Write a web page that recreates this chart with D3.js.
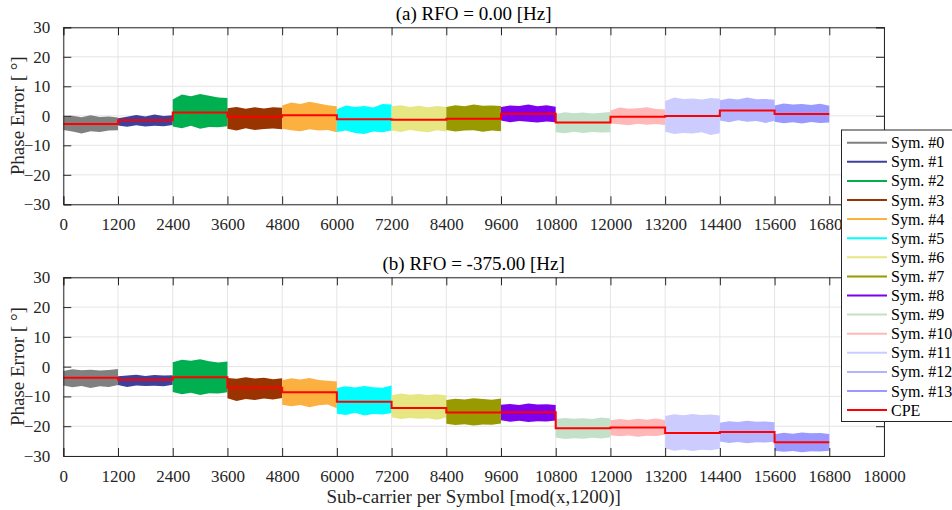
<!DOCTYPE html>
<html>
<head>
<meta charset="utf-8">
<script src="https://cdn.jsdelivr.net/npm/d3@7"></script>
<style>
  body { margin: 0; background: #fff; }
  svg { font-family: "Liberation Serif", "Times New Roman", serif; }
</style>
</head>
<body>
<svg id="chart" width="952" height="510"></svg>
<script>
// per-symbol phase error: CPE step + upper/lower envelope of the noise band
var symNames = ["Sym. #0", "Sym. #1", "Sym. #2", "Sym. #3", "Sym. #4", "Sym. #5", "Sym. #6",
                "Sym. #7", "Sym. #8", "Sym. #9", "Sym. #10", "Sym. #11", "Sym. #12", "Sym. #13"]
var symColors = ["#808080", "#3f3f9c", "#00b050", "#993300", "#fbb040", "#00ffff", "#e6e682",
                 "#999900", "#7f00ee", "#c3e0c8", "#ffb8b8", "#ccccff", "#b3b3ff", "#9999ff"]
var xTicks = [0, 1200, 2400, 3600, 4800, 6000, 7200, 8400, 9600, 10800, 12000, 13200, 14400, 15600, 16800, 18000]
var yTicks = [-30, -20, -10, 0, 10, 20, 30]
var sampleOffsets = [0, 200, 400, 600, 800, 1000, 1200]

// (a) RFO = 0.00 Hz
var cpeA = [-2.8, -1.5, 1.1, -0.3, 0.2, -1.2, -1.3, -1.0, 0.7, -2.3, -0.3, -0.1, 1.8, 0.6]
var hiA = [
  [-0.3, 0.0, -0.5, 0.2, -0.4, -0.2, -0.6],
  [-0.8, -0.3, 0.3, -0.2, 0.4, -0.1, 0.2],
  [5.5, 7.2, 6.6, 7.4, 6.8, 6.2, 6.0],
  [2.6, 3.0, 2.4, 2.9, 2.5, 2.9, 2.7],
  [3.5, 4.5, 4.0, 4.8, 4.2, 3.6, 3.2],
  [2.2, 3.5, 3.0, 3.3, 2.8, 4.0, 3.8],
  [3.2, 3.6, 3.0, 3.4, 2.9, 3.3, 3.0],
  [3.0, 3.6, 3.2, 3.8, 3.4, 3.5, 3.3],
  [3.0, 3.5, 3.3, 3.8, 3.2, 3.6, 3.1],
  [0.6, 1.2, 0.9, 1.1, 0.8, 1.0, 1.3],
  [1.8, 2.8, 2.4, 2.6, 2.9, 2.3, 2.1],
  [5.0, 6.2, 5.7, 5.9, 5.5, 6.0, 5.8],
  [5.3, 5.9, 5.5, 6.2, 5.6, 5.7, 5.4],
  [3.5, 4.2, 3.8, 4.0, 3.7, 4.1, 3.4]]
var loA = [
  [-4.8, -5.3, -6.0, -5.2, -5.5, -5.0, -4.9],
  [-3.3, -3.7, -3.2, -3.6, -3.4, -3.5, -3.1],
  [-3.6, -4.2, -3.4, -4.4, -3.8, -3.9, -3.5],
  [-4.4, -5.0, -4.2, -4.8, -4.5, -4.3, -4.6],
  [-4.4, -4.9, -5.2, -4.6, -5.0, -4.8, -5.6],
  [-5.5, -5.0, -5.8, -6.2, -5.3, -5.6, -5.0],
  [-5.0, -5.5, -4.8, -5.2, -5.6, -4.9, -5.3],
  [-4.8, -5.3, -5.0, -4.9, -5.4, -5.0, -5.2],
  [-1.6, -2.2, -1.8, -2.0, -2.3, -1.9, -2.2],
  [-5.6, -5.9, -5.4, -5.8, -5.5, -5.7, -5.6],
  [-2.6, -2.9, -3.2, -2.7, -3.0, -2.8, -3.1],
  [-5.4, -6.2, -5.8, -6.0, -5.6, -6.5, -5.9],
  [-1.6, -2.2, -1.5, -2.0, -1.8, -2.4, -1.7],
  [-2.0, -2.5, -2.2, -2.6, -2.1, -2.4, -2.3]]

// (b) RFO = -375.00 Hz
var cpeB = [-3.7, -4.4, -3.6, -7.1, -8.6, -11.8, -13.9, -15.4, -15.3, -20.7, -20.4, -22.3, -21.9, -25.4]
var hiB = [
  [-1.5, -0.9, -1.2, -1.0, -1.3, -1.1, -0.8],
  [-3.2, -3.0, -2.7, -3.1, -2.8, -3.0, -2.9],
  [1.5, 2.3, 2.0, 2.5, 1.8, 1.4, 1.7],
  [-3.8, -4.1, -3.6, -4.0, -3.7, -4.2, -3.9],
  [-4.6, -3.9, -4.3, -3.8, -4.5, -4.7, -5.0],
  [-7.2, -6.6, -7.0, -6.5, -6.9, -7.1, -6.3],
  [-9.6, -9.0, -9.4, -9.2, -9.5, -9.3, -9.7],
  [-11.2, -10.8, -11.0, -10.6, -10.9, -11.1, -10.7],
  [-12.8, -12.5, -12.9, -12.4, -12.7, -12.6, -12.9],
  [-17.6, -17.2, -17.5, -17.3, -17.6, -17.1, -17.4],
  [-18.0, -17.6, -17.9, -17.5, -17.8, -17.4, -17.9],
  [-16.6, -16.0, -16.3, -15.9, -16.2, -16.1, -16.4],
  [-18.8, -18.3, -18.6, -18.2, -18.5, -18.4, -18.7],
  [-22.7, -22.2, -22.5, -22.1, -22.4, -22.3, -22.6]]
var loB = [
  [-6.3, -6.9, -6.5, -7.2, -6.6, -6.8, -6.2],
  [-6.2, -6.8, -6.3, -6.5, -6.4, -6.6, -6.1],
  [-8.5, -9.3, -8.8, -9.5, -8.9, -9.0, -8.6],
  [-10.6, -11.5, -10.9, -11.2, -10.7, -11.0, -10.5],
  [-12.8, -13.3, -12.9, -13.6, -13.0, -12.7, -14.0],
  [-15.8, -16.2, -15.5, -16.4, -15.9, -16.1, -15.6],
  [-17.0, -17.6, -17.2, -17.5, -17.3, -17.8, -17.1],
  [-19.2, -19.6, -19.3, -19.8, -19.4, -19.5, -19.1],
  [-18.0, -18.5, -18.2, -18.6, -18.3, -18.4, -18.1],
  [-23.8, -24.3, -24.0, -24.2, -23.9, -24.1, -23.7],
  [-23.0, -23.4, -23.1, -23.5, -23.2, -23.3, -22.9],
  [-27.5, -28.2, -27.8, -28.3, -27.9, -28.1, -27.6],
  [-25.1, -25.6, -25.3, -25.7, -25.4, -25.5, -25.2],
  [-28.2, -28.6, -28.3, -28.7, -28.4, -28.5, -28.2]]

var symLen = 1200
var axisColor = "#262626"
var gridColor = "#e5e5e5"
var svg = d3.select("#chart")

var x = d3.scaleLinear().domain([0, 18000]).range([63.3, 884])

function drawPanel(top, bottom, title, cpe, hi, lo, hideLastLabel) {
  var y = d3.scaleLinear().domain([-30, 30]).range([bottom, top])
  var g = svg.append("g")

  // grid
  g.selectAll(".gx").data(xTicks).enter().append("line")
      .attr("x1", d => x(d)).attr("x2", d => x(d))
      .attr("y1", top).attr("y2", bottom)
      .attr("stroke", gridColor).attr("stroke-width", 1)
  g.selectAll(".gy").data(yTicks).enter().append("line")
      .attr("x1", x(0)).attr("x2", x(18000))
      .attr("y1", d => y(d)).attr("y2", d => y(d))
      .attr("stroke", gridColor).attr("stroke-width", 1)

  // noise bands
  var area = d3.area()
      .x(d => x(d.x))
      .y0(d => y(d.lo))
      .y1(d => y(d.hi))
  symNames.forEach(function(name, i) {
    var pts = sampleOffsets.map((o, k) => ({x: i * symLen + o, hi: hi[i][k], lo: lo[i][k]}))
    g.append("path").attr("d", area(pts)).attr("fill", symColors[i])
  })

  // CPE step line
  var steps = []
  cpe.forEach(function(v, i) {
    steps.push([i * symLen, v])
    steps.push([(i + 1) * symLen, v])
  })
  g.append("path")
      .attr("d", d3.line().x(d => x(d[0])).y(d => y(d[1]))(steps))
      .attr("fill", "none").attr("stroke", "#ff0000").attr("stroke-width", 2)

  // axes with inward ticks on all four sides
  var tickLen = 8
  var xb = d3.axisBottom(x).tickValues(xTicks).tickSize(-tickLen).tickPadding(tickLen + 6)
      .tickFormat(d => (hideLastLabel && d === 18000) ? "" : d3.format("d")(d))
  var xt = d3.axisTop(x).tickValues(xTicks).tickSize(-tickLen).tickFormat("")
  var yl = d3.axisLeft(y).tickValues(yTicks).tickSize(-tickLen).tickPadding(tickLen + 5)
  var yr = d3.axisRight(y).tickValues(yTicks).tickSize(-tickLen).tickFormat("")
  var axes = [
    g.append("g").attr("transform", "translate(0," + bottom + ")").call(xb),
    g.append("g").attr("transform", "translate(0," + top + ")").call(xt),
    g.append("g").attr("transform", "translate(" + x(0) + ",0)").call(yl),
    g.append("g").attr("transform", "translate(" + x(18000) + ",0)").call(yr)
  ]
  axes.forEach(function(a) {
    a.select(".domain").attr("stroke", axisColor)
    a.selectAll(".tick line").attr("stroke", axisColor)
    a.selectAll("text").attr("fill", axisColor).style("font-size", "17px")
      .style("font-family", "'Liberation Serif', 'Times New Roman', serif")
  })

  g.append("text")
      .attr("x", (x(0) + x(18000)) / 2).attr("y", top - 7)
      .attr("text-anchor", "middle").style("font-size", "19px").attr("fill", "#000")
      .text(title)
  g.append("text")
      .attr("transform", "translate(24," + (top + bottom) / 2 + ") rotate(-90)")
      .attr("text-anchor", "middle").style("font-size", "19px").attr("fill", axisColor)
      .text("Phase Error [ °]")
}

drawPanel(27.3, 204.3, "(a) RFO = 0.00 [Hz]", cpeA, hiA, loA, true)
drawPanel(277.3, 456, "(b) RFO = -375.00 [Hz]", cpeB, hiB, loB, false)

svg.append("text")
    .attr("x", (x(0) + x(18000)) / 2).attr("y", 503)
    .attr("text-anchor", "middle").style("font-size", "19px").attr("fill", axisColor)
    .text("Sub-carrier per Symbol [mod(x,1200)]")

// legend
var legNames = symNames.concat(["CPE"])
var legColors = symColors.concat(["#ff0000"])
var leg = svg.append("g")
leg.append("rect")
    .attr("x", 841.5).attr("y", 130).attr("width", 130).attr("height", 291.5)
    .attr("fill", "#fff").attr("stroke", axisColor).attr("stroke-width", 1)
legNames.forEach(function(n, i) {
  var ly = 142.7 + i * 19.1
  leg.append("line").attr("x1", 847).attr("x2", 887).attr("y1", ly).attr("y2", ly)
      .attr("stroke", legColors[i]).attr("stroke-width", 2)
  leg.append("text").attr("x", 891).attr("y", ly + 5.5)
      .style("font-size", "16px").attr("fill", "#000").text(n)
})
</script>
</body>
</html>
